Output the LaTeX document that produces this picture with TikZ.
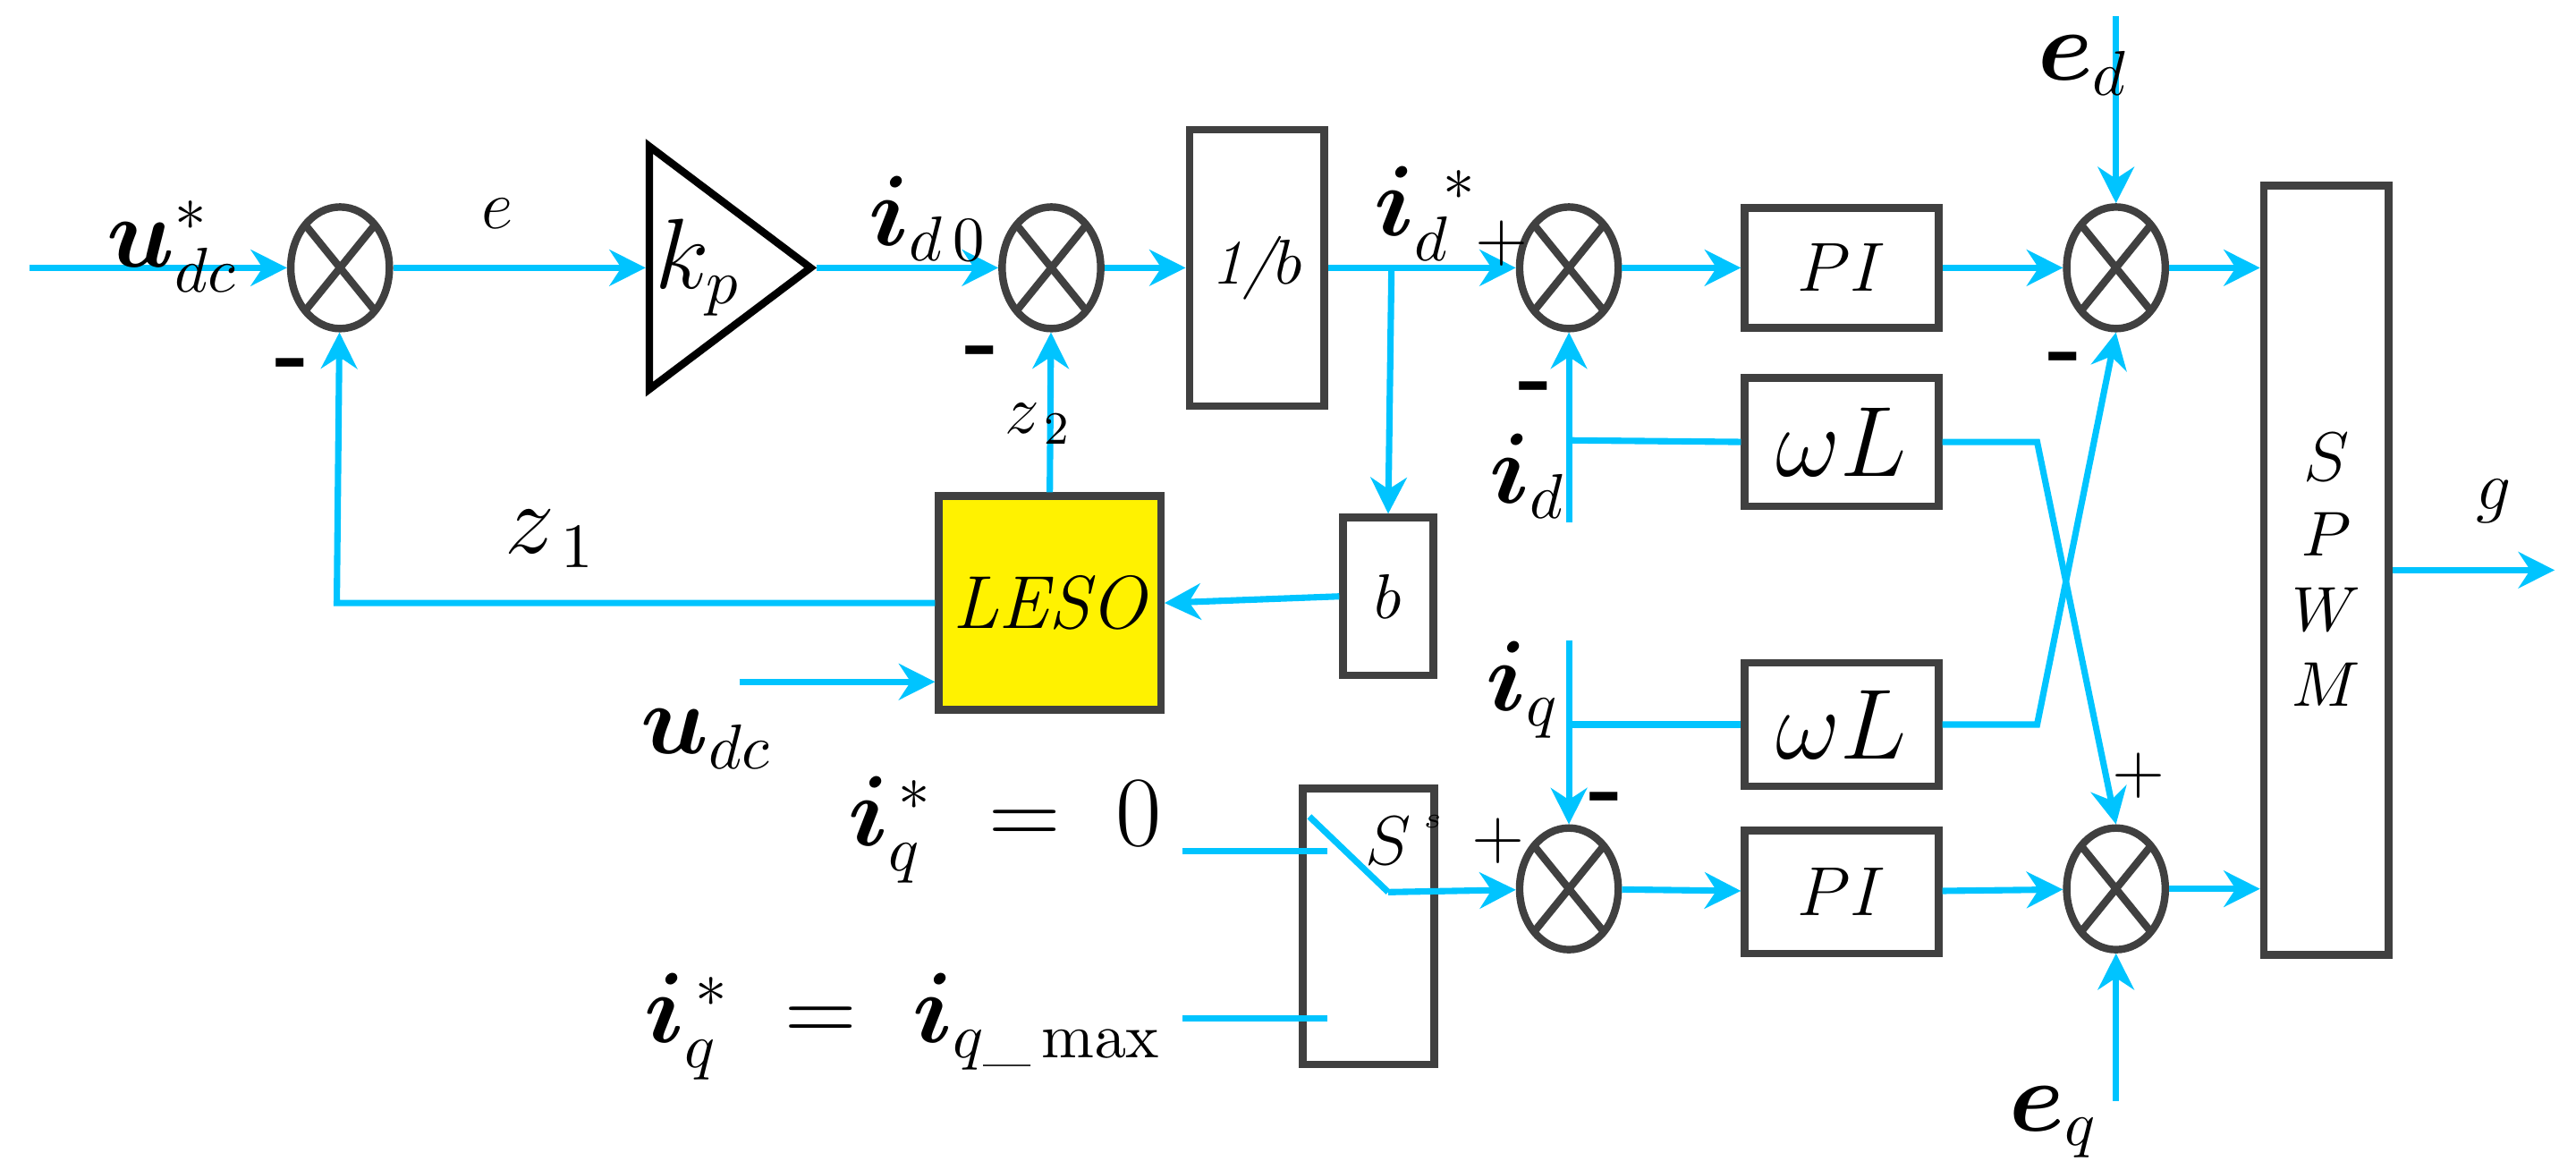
\documentclass[tikz,border=0pt]{standalone}
\usepackage{amsmath,bm}
\usetikzlibrary{shapes.geometric,arrows.meta}
\definecolor{cb}{RGB}{0,196,255}
\definecolor{dg}{RGB}{64,64,64}
\begin{document}
\begin{tikzpicture}[x=0.01cm,y=-0.01cm,
 arr/.style={cb,line width=1.1pt,-{Stealth[length=2.2mm,width=2.2mm]}},
 ln/.style={cb,line width=1.1pt},
 sum/.style={ellipse,draw=dg,line width=1.3pt,minimum width=0.6cm,minimum height=0.74cm,inner sep=0pt,
   path picture={\draw[dg,line width=1.3pt] (path picture bounding box.north west)--(path picture bounding box.south east)
   (path picture bounding box.north east)--(path picture bounding box.south west);}},
 blk/.style={draw=dg,line width=1.3pt,inner sep=0pt,font=\itshape\fontsize{11}{13}\selectfont},
 lb/.style={inner sep=0pt,font=\fontsize{16}{18}\selectfont},
 sm/.style={inner sep=0pt,font=\fontsize{12}{14}\selectfont}]
\useasboundingbox (0,0) rectangle (1568,712);
\node[sum] (s1) at (207,163) {};
\node[sum] (s2) at (640,163) {};
\node[sum] (s3) at (955,163) {};
\node[sum] (s4) at (1288,163) {};
\node[sum] (s5) at (955,541) {};
\node[sum] (s6) at (1288,541) {};
\node[draw=black,line width=1.3pt,isosceles triangle,isosceles triangle apex angle=74,minimum height=0.98cm,inner sep=0pt,anchor=west] (kp) at (393,163) {};
\node[lb] (kpl) at (425,163) {$k_p$};
\node[blk,minimum width=0.82cm,minimum height=1.68cm] (ib) at (765,163) {1/$b$};
\node[blk,minimum width=0.55cm,minimum height=0.96cm] (b) at (845,363) {$b$};
\node[blk,fill=yellow,minimum width=1.35cm,minimum height=1.3cm] (leso) at (639,367) {\fontsize{13}{15}\selectfont LESO};
\node[blk,minimum width=1.18cm,minimum height=0.73cm] (pi1) at (1121,163) {\fontsize{13}{15}\selectfont $PI$};
\node[blk,minimum width=1.18cm,minimum height=0.78cm] (wl1) at (1121,269) {\fontsize{18}{20}\selectfont $\omega L$};
\node[blk,minimum width=1.18cm,minimum height=0.75cm] (wl2) at (1121,441) {\fontsize{18}{20}\selectfont $\omega L$};
\node[blk,minimum width=1.18cm,minimum height=0.75cm] (pi2) at (1121,543) {\fontsize{13}{15}\selectfont $PI$};
\node[blk,minimum width=0.76cm,minimum height=4.68cm,align=center] (spwm) at (1416,347) {\fontsize{13}{19}\selectfont $S$\\$P$\\$W$\\$M$};
\node[blk,minimum width=0.8cm,minimum height=1.68cm] (sw) at (833,564) {};
\node[sm] (swl) at (845,512) {$S$};
\node[inner sep=0pt,font=\tiny] (swls) at (872,500) {$s$};
\coordinate (in) at (18,163);
\coordinate (j1) at (847,163);
\coordinate (ed) at (1288,10);
\coordinate (eq) at (1288,670);
\coordinate (idb) at (955,318);
\coordinate (idh) at (955,268);
\coordinate (iqt) at (955,390);
\coordinate (iqh) at (955,441);
\coordinate (c1) at (1240,269);
\coordinate (c2) at (1240,441);
\coordinate (g) at (1555,347);
\coordinate (z1c) at (205,367);
\coordinate (udc) at (450,415);
\coordinate (l0a) at (720,518);\coordinate (l0b) at (808,518);
\coordinate (l1a) at (720,620);\coordinate (l1b) at (808,620);
\coordinate (bl1) at (797,497);\coordinate (bl2) at (845,543);
\draw[arr] (in) -- (s1);
\draw[arr] (s1) -- (kp.west);
\draw[arr] (kp.apex) -- (s2);
\draw[arr] (s2) -- (ib);
\draw[arr] (ib) -- (s3);
\draw[arr] (j1) -- (b.north);
\draw[arr] (s3) -- (pi1);
\draw[arr] (pi1) -- (s4);
\draw[arr] (s4) -- (s4-|spwm.west);
\draw[arr] (ed) -- (s4);
\draw[arr] (b.west) -- (leso.east);
\draw[arr] (leso.north) -- (s2);
\draw[arr] (leso.west) -- (z1c) -- (s1);
\draw[arr] (udc) -- (udc-|leso.west);
\draw[arr] (idb) -- (s3);
\draw[ln] (idh) -- (wl1.west);
\draw[arr] (iqt) -- (s5);
\draw[ln] (iqh) -- (wl2.west);
\draw[arr] (wl1.east) -- (c1) -- (s6.north);
\draw[arr] (wl2.east) -- (c2) -- (s4.south);
\draw[ln] (l0a) -- (l0b);
\draw[ln] (l1a) -- (l1b);
\draw[ln] (bl1) -- (bl2);
\draw[arr] (bl2) -- (s5);
\draw[arr] (s5) -- (pi2);
\draw[arr] (pi2) -- (s6);
\draw[arr] (s6) -- (s6-|spwm.west);
\draw[arr] (eq) -- (s6);
\draw[arr] (spwm.east|-g) -- (g);
\node[lb] (t1) at (105,150) {$\bm{u}^{*}_{dc}$};
\node[sm] (t2) at (303,130) {$e$};
\node[lb] (t3) at (565,133) {$\bm{i}_{d\,0}$};
\node[lb] (t4) at (868,130) {$\bm{i}_{d}^{\;\,*}$};
\node[lb] (t5) at (930,290) {$\bm{i}_{d}$};
\node[lb] (t6) at (927,420) {$\bm{i}_{q}$};
\node[lb] (t7) at (1268,40) {$\bm{e}_{d}$};
\node[lb] (t8) at (1250,683) {$\bm{e}_{q}$};
\node[lb] (t9) at (335,328) {$z_{\,1}$};
\node[sm] (t10) at (632,258) {$z_{\,2}$};
\node[lb] (t11) at (430,450) {$\bm{u}_{dc}$};
\node[sm] (t12) at (1518,305) {$g$};
\node[lb,anchor=east] (t13) at (708,505) {$\bm{i}_q^{\,*}\;=\;0$};
\node[lb,anchor=east] (t14) at (708,625) {$\bm{i}_q^{\,*}\;=\;\bm{i}_{q\_\max}$};
\node[lb] (m1) at (178,226) {\textbf{-}};
\node[lb] (m2) at (598,218) {\textbf{-}};
\node[lb] (m3) at (935,240) {\textbf{-}};
\node[lb] (m4) at (978,490) {\textbf{-}};
\node[lb] (m5) at (1257,222) {\textbf{-}};
\node[sm] (p1) at (914,148) {+};
\node[sm] (p2) at (912,512) {+};
\node[sm] (p3) at (1302,472) {+};
\end{tikzpicture}
\end{document}
